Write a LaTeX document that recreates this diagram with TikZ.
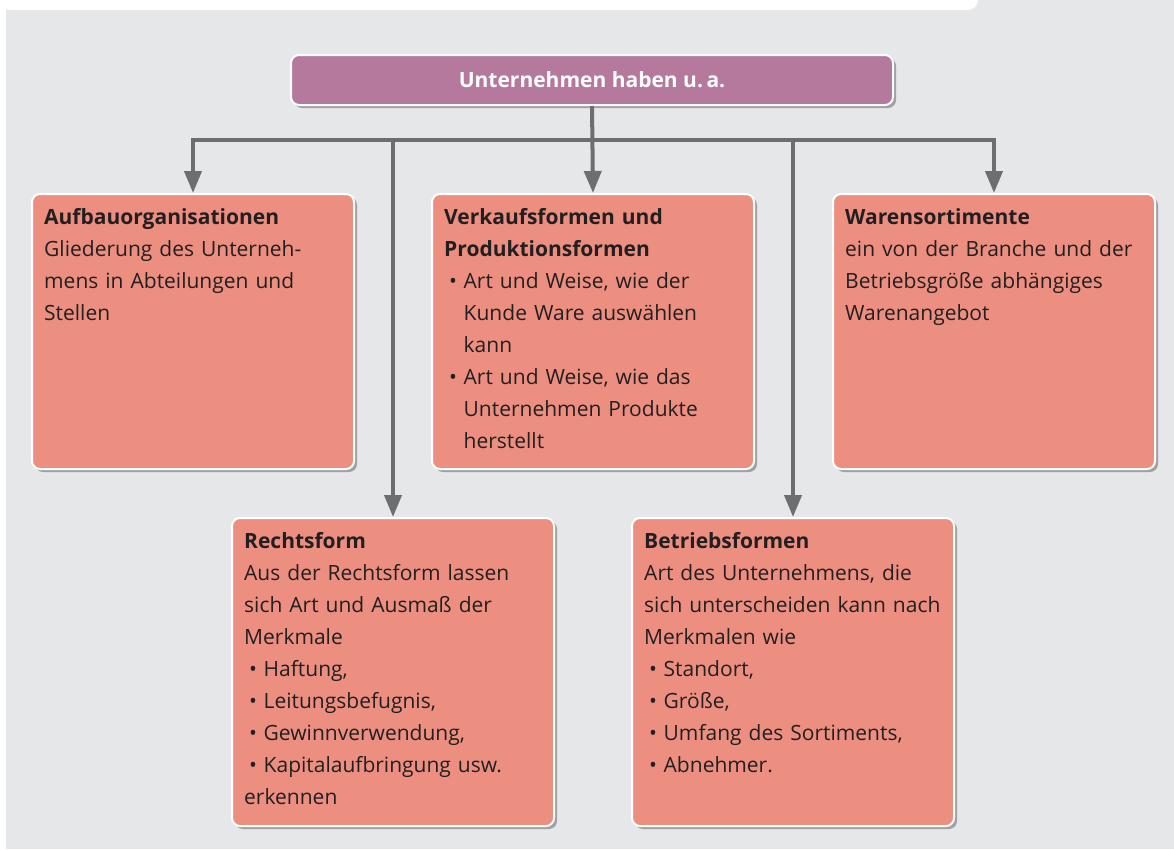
\documentclass[tikz,border=0pt]{standalone}
\usepackage{fontspec}
\setmainfont{Open Sans}
\usepackage{xcolor}
\usetikzlibrary{arrows.meta,positioning,shadows}

\definecolor{bggray}{HTML}{E6E7E8}
\definecolor{toppink}{HTML}{B5799D}
\definecolor{salmon}{HTML}{EC8F81}
\definecolor{linegray}{HTML}{6D6E71}
\definecolor{inkdark}{HTML}{231F20}

\newcommand{\bitem}[1]{\par\hangindent=19.5pt\hangafter=1\noindent
  \makebox[19.5pt][l]{\hspace{5pt}\textbullet}#1\par}

\begin{document}
\begin{tikzpicture}[x=1pt,y=-1pt,
  shade/.style={drop shadow={shadow xshift=3pt,shadow yshift=-3pt,fill=black,opacity=0.3}},
  obox/.style={draw=white,line width=2pt,rounded corners=8pt,fill=salmon,
    minimum width=322pt,inner sep=0pt,anchor=north west,shade},
  otext/.style={text width=300pt,align=left,inner sep=0pt,text=inkdark,
    font=\fontsize{21}{32}\selectfont},
  conn/.style={draw=linegray,line width=4pt},
  arr/.style={conn,-{Triangle[width=17pt,length=22pt]}},
]
\useasboundingbox (0,0) rectangle (1174,849);
\fill[bggray] (0,0) rectangle (1174,849);
\fill[white] (0,0) rectangle (6,849);
\fill[white] (0,0) -- (978,0) {[rounded corners=10pt] -- (978,10) -- (0,10)} -- cycle;

\node[draw=white,line width=2pt,rounded corners=8pt,fill=toppink,shade,
  minimum width=602pt,minimum height=50pt,text=white,
  font=\bfseries\fontsize{21}{24}\selectfont] (top) at (592,80) {Unternehmen haben u.\,a.};

\node[obox,minimum height=275pt] (aufbau) at (31,193) {};
\node[obox,minimum height=275pt] (verkauf) at (431,193) {};
\node[obox,minimum height=275pt] (waren) at (832,193) {};
\node[obox,minimum height=308pt] (recht) at (231,517) {};
\node[obox,minimum height=308pt] (betrieb) at (631,517) {};

\node[otext,below right=15pt and 13pt of aufbau.north west] (aufbautxt) {%
  \textbf{Aufbauorganisationen}\\ Gliederung des Unterneh-\\
  mens in Abteilungen und\\ Stellen};
\node[otext,below right=15pt and 13pt of verkauf.north west] (verkauftxt) {%
  \textbf{Verkaufsformen und}\\ \textbf{Produktionsformen}
  \bitem{Art und Weise, wie der\newline Kunde Ware auswählen\newline kann}
  \bitem{Art und Weise, wie das\newline Unternehmen Produkte\newline herstellt}};
\node[otext,below right=15pt and 13pt of waren.north west] (warentxt) {%
  \textbf{Warensortimente}\\ ein von der Branche und der\\
  Betriebsgröße abhängiges\\ Warenangebot};
\node[otext,below right=15pt and 13pt of recht.north west] (rechttxt) {%
  \textbf{Rechtsform}\\ Aus der Rechtsform lassen\\ sich Art und Ausmaß der\\ Merkmale
  \bitem{Haftung,}
  \bitem{Leitungsbefugnis,}
  \bitem{Gewinnverwendung,}
  \bitem{Kapitalaufbringung usw.}
  \noindent erkennen};
\node[otext,below right=15pt and 13pt of betrieb.north west] (betriebtxt) {%
  \textbf{Betriebsformen}\\ Art des Unternehmens, die\\
  sich unterscheiden kann nach\\ Merkmalen wie
  \bitem{Standort,}
  \bitem{Größe,}
  \bitem{Umfang des Sortiments,}
  \bitem{Abnehmer.}};

\coordinate (bus) at (592,140);
\draw[conn,{Triangle[width=17pt,length=22pt]}-{Triangle[width=17pt,length=22pt]}]
  (aufbau.north) -- (bus -| aufbau.north) -- (bus -| waren.north) -- (waren.north);
\draw[arr] (top.south) -- (verkauf.north);
\draw[arr] (bus -| recht.north) -- (recht.north);
\draw[arr] (bus -| betrieb.north) -- (betrieb.north);
\end{tikzpicture}
\end{document}
